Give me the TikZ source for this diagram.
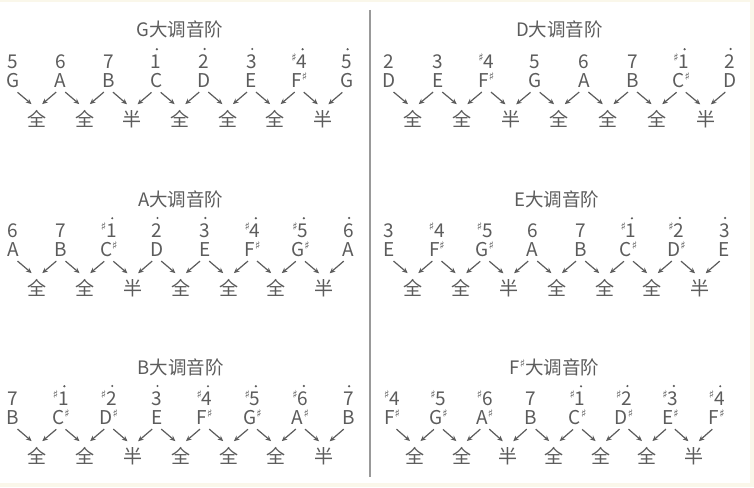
\documentclass[tikz,border=0pt]{standalone}
\usepackage{fontspec}
\setmainfont{Noto Sans CJK SC}
\newfontfamily\symfont{DejaVu Sans}
\usetikzlibrary{arrows.meta}

\definecolor{inkgray}{RGB}{92,92,92}
\definecolor{cream}{RGB}{250,247,234}

% sharp sign
\newcommand{\sh}{\raisebox{6.5pt}[0pt][0pt]{\symfont\bfseries\fontsize{11}{10}\selectfont ♯}}

\tikzset{
  scaletitle/.style={anchor=base, text=inkgray, font=\fontsize{18.5}{22}\selectfont},
  degnum/.style={anchor=base, text=inkgray, inner sep=1pt, font=\fontsize{19}{22}\selectfont},
  notename/.style={degnum},
  stepname/.style={degnum},
  octdot/.style={fill=inkgray},
  arr/.style={-{Stealth[length=5.5pt,width=5pt]}, draw=inkgray, line width=1.2pt,
    shorten <=6pt, shorten >=7pt},
}

% #1 name, #2 x of first note, #3 row offset, #4 note distance, #5 title,
% #6 notes as number/letter/upper octave
\newcommand{\scalerow}[6]{%
  \node[scaletitle] (#1-title) at ({#2+3.5*#4},{#3+37}) {#5};
  \foreach \nm/\lt/\up [count=\i] in {#6} {
    \node[degnum] (#1-num\i) at ({#2+(\i-1)*#4},{#3+68}) {\nm};
    \node[notename] (#1-note\i) at ({#2+(\i-1)*#4},{#3+87}) {\lt};
    \ifnum\up=1
      \fill[octdot] ([xshift=-5.7pt,yshift=4pt]#1-num\i.north east) circle (1.2pt);
    \fi
  }
  \foreach \st [count=\i] in {全,全,半,全,全,全,半}
    \node[stepname] (#1-step\i) at ({#2+(\i-0.5)*#4},{#3+126}) {\st};
  \foreach \i in {1,...,7} {
    \pgfmathtruncatemacro\j{\i+1}
    \draw[arr] (#1-note\i.south) -- (#1-step\i.north);
    \draw[arr] (#1-note\j.south) -- (#1-step\i.north);
  }
}

\begin{document}
\begin{tikzpicture}[x=1pt,y=-1pt]
  \useasboundingbox (0,0) rectangle (754,487);
  \fill[cream] (0,0) rectangle (754,487);
  \fill[white] (0,2) rectangle (750,483);

  % divider
  \coordinate (divtop) at (370,10);
  \coordinate (divbot) at (370,477);
  \draw[line width=1.5pt, draw=black!40] (divtop) -- (divbot);

  \scalerow{G}{13}{0}{47.7}{G大调音阶}
    {5/G/0, 6/A/0, 7/B/0, 1/C/1, 2/D/1, 3/E/1, \sh4/F\sh/1, 5/G/1}
  \scalerow{D}{389}{0}{48.7}{D大调音阶}
    {2/D/0, 3/E/0, \sh4/F\sh/0, 5/G/0, 6/A/0, 7/B/0, \sh1/C\sh/1, 2/D/1}
  \scalerow{A}{13}{169}{47.9}{A大调音阶}
    {6/A/0, 7/B/0, \sh1/C\sh/1, 2/D/1, 3/E/1, \sh4/F\sh/1, \sh5/G\sh/1, 6/A/1}
  \scalerow{E}{389}{169}{47.9}{E大调音阶}
    {3/E/0, \sh4/F\sh/0, \sh5/G\sh/0, 6/A/0, 7/B/0, \sh1/C\sh/1, \sh2/D\sh/1, 3/E/1}
  \scalerow{B}{13}{337}{47.9}{B大调音阶}
    {7/B/0, \sh1/C\sh/1, \sh2/D\sh/1, 3/E/1, \sh4/F\sh/1, \sh5/G\sh/1, \sh6/A\sh/1, 7/B/1}
  \scalerow{Fs}{392}{337}{46.4}{F\sh 大调音阶}
    {\sh4/F\sh/0, \sh5/G\sh/0, \sh6/A\sh/0, 7/B/0, \sh1/C\sh/1, \sh2/D\sh/1, \sh3/E\sh/1, \sh4/F\sh/1}
\end{tikzpicture}
\end{document}
